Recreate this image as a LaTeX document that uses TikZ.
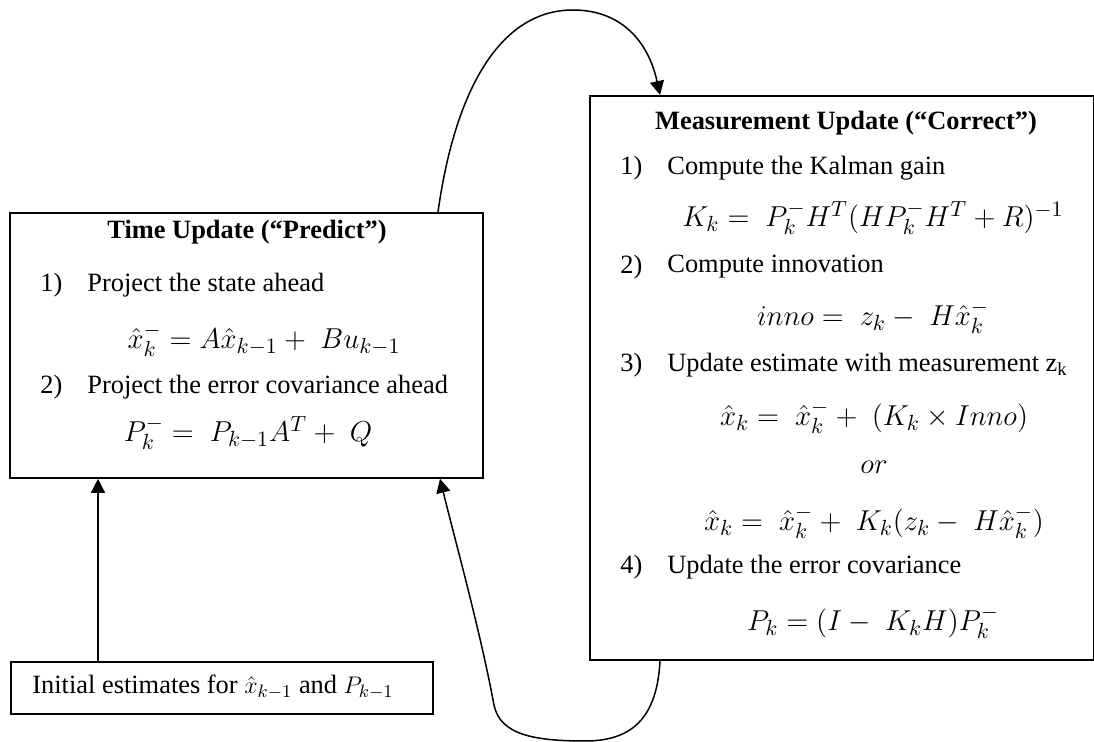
\documentclass[tikz,border=0pt]{standalone}
\usepackage{fontspec}
\setmainfont{Liberation Serif}
\usetikzlibrary{arrows.meta}
\begin{document}
\begin{tikzpicture}[x=0.5pt,y=-0.5pt,
  font=\fontsize{13.2}{15.8}\selectfont,
  box/.style={draw, line width=0.9pt, anchor=north west, inner sep=0pt},
  txt/.style={inner sep=0pt, anchor=west},
  eq/.style={inner sep=0pt, anchor=center, font=\fontsize{15}{18}\selectfont},
  arr/.style={line width=0.75pt, -{Triangle[length=7pt,width=7pt]}}]
\useasboundingbox (0,0) rectangle (1094,742);

% boxes
\node[box, minimum width=236.5pt, minimum height=132.5pt] (tu) at (9,212) {};
\node[box, minimum width=252pt, minimum height=282pt] (mu) at (589,95) {};
\node[box, minimum width=211pt, minimum height=26pt] (init) at (10,661) {};

% time update text
\node[inner sep=0pt] (tut) at (247,232) {\textbf{Time Update (“Predict”)}};
\node[txt] (t1n) at (40,285) {1)};
\node[txt] (t1) at (87,285) {Project the state ahead};
\node[eq] (e1) at (264,340) {$\hat{x}_k^- = A\hat{x}_{k-1} + \; Bu_{k-1}$};
\node[txt] (t2n) at (40,387) {2)};
\node[txt] (t2) at (87,387) {Project the error covariance ahead};
\node[eq] (e2) at (248,433) {$P_k^- = \; P_{k-1}A^T + \; Q$};

% measurement update text
\node[inner sep=0pt] (mut) at (846,123) {\textbf{Measurement Update (“Correct”)}};
\node[txt] (m1n) at (620,168) {1)};
\node[txt] (m1) at (667,168) {Compute the Kalman gain};
\node[eq] (me1) at (873,218) {$K_k = \; P_k^- H^T (H P_k^- H^T + R)^{-1}$};
\node[txt] (m2n) at (620,267) {2)};
\node[txt] (m2) at (667,267) {Compute innovation};
\node[eq] (me2) at (873,317) {$inno = \; z_k - \; H\hat{x}_k^-$};
\node[txt] (m3n) at (620,365) {3)};
\node[txt] (m3) at (667,365) {Update estimate with measurement z\textsubscript{k}};
\node[eq] (me3) at (874,417) {$\hat{x}_k = \; \hat{x}_k^- + \; (K_k \times Inno)$};
\node[eq] (mor) at (874,467) {$or$};
\node[eq] (me4) at (874,522) {$\hat{x}_k = \; \hat{x}_k^- + \; K_k(z_k - \; H\hat{x}_k^-)$};
\node[txt] (m4n) at (620,567) {4)};
\node[txt] (m4) at (667,567) {Update the error covariance};
\node[eq] (me5) at (873,622) {$P_k = (I - \; K_kH)P_k^-$};

% initial estimates text
\node[txt] (it) at (32,687) {Initial estimates for $\hat{x}_{k-1}$ and $P_{k-1}$};

% connectors
\draw[arr] ([xshift=44pt]init.north west) -- ([xshift=44.5pt]tu.south west);
\draw[arr] ([xshift=214.5pt]tu.north west) .. controls (455,90) and (500,10) .. (573,10)
  .. controls (620,10) and (648,40) .. ([xshift=35.5pt]mu.north west);
\draw[arr] ([xshift=35.5pt]mu.south west) .. controls (657,720) and (630,741) .. (585,741)
  .. controls (535,741) and (500,735) .. (494,705) .. controls (480,630) and (455,540) .. ([xshift=215.5pt]tu.south west);
\end{tikzpicture}
\end{document}
